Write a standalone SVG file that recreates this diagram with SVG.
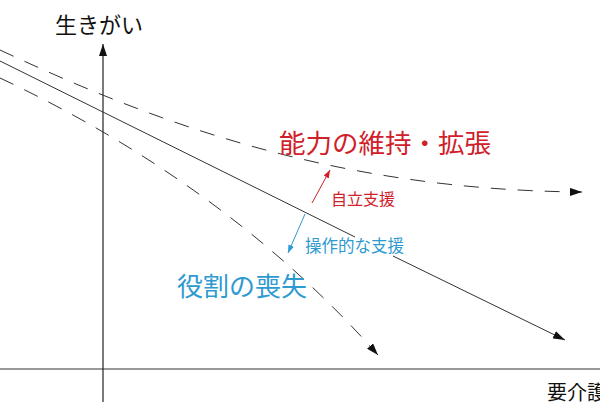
<svg xmlns="http://www.w3.org/2000/svg" width="600" height="420" viewBox="0 0 600 420">
<style>
.jp{font-family:"Noto Sans CJK JP","Noto Sans",sans-serif}
.dash{fill:none;stroke:#333;stroke-width:1;stroke-dasharray:15 12}
.solid{fill:none;stroke:#333;stroke-width:1}
</style>
<defs>
<marker id="ah" viewBox="0 0 12 8" refX="12" refY="4" markerWidth="12" markerHeight="8" markerUnits="userSpaceOnUse" orient="auto"><path d="M0,0 L12,4 L0,8 Z" fill="#111"/></marker>
<marker id="ahr" viewBox="0 0 8 6" refX="8" refY="3" markerWidth="8" markerHeight="6" markerUnits="userSpaceOnUse" orient="auto"><path d="M0,0 L8,3 L0,6 Z" fill="#d0202a"/></marker>
<marker id="ahb" viewBox="0 0 8 6" refX="8" refY="3" markerWidth="8" markerHeight="6" markerUnits="userSpaceOnUse" orient="auto"><path d="M0,0 L8,3 L0,6 Z" fill="#2e9ad0"/></marker>
</defs>
<rect width="600" height="420" fill="#fff"/>
<g id="axes">
<line x1="0" y1="369" x2="600" y2="369" stroke="#777" stroke-width="1.5"/>
<line x1="103" y1="402" x2="103" y2="44" stroke="#222" stroke-width="1.2" marker-end="url(#ah)"/>
</g>
<g id="connectors">
<line class="solid" x1="0" y1="61" x2="355" y2="237"/>
<line class="solid" x1="393" y1="256" x2="565" y2="340" marker-end="url(#ah)"/>
<path class="dash" d="M0,50 C150,120 330,190 582,192" marker-end="url(#ah)"/>
<path class="dash" d="M0,78 C100,125 250,210 378,355" marker-end="url(#ah)"/>
<line x1="312" y1="203" x2="330" y2="170" stroke="#d0202a" stroke-width="1" marker-end="url(#ahr)"/>
<line x1="305" y1="214" x2="288" y2="253" stroke="#2e9ad0" stroke-width="1" marker-end="url(#ahb)"/>
</g>
<g id="label-y"><text class="jp" x="55" y="33" font-size="22" fill="#111">生きがい</text></g>
<g id="label-x"><text class="jp" x="547" y="400" font-size="20" fill="#111">要介護</text></g>
<g id="label-maintain"><text class="jp" x="279" y="153" font-size="26.5" fill="#d0202a">能力の維持・拡張</text></g>
<g id="label-jiritsu"><text class="jp" x="331" y="205" font-size="16" fill="#d0202a">自立支援</text></g>
<g id="label-sousa"><text class="jp" x="305" y="252" font-size="16.5" fill="#2e9ad0">操作的な支援</text></g>
<g id="label-loss"><text class="jp" x="177" y="296" font-size="26" fill="#2e9ad0">役割の喪失</text></g>
</svg>
